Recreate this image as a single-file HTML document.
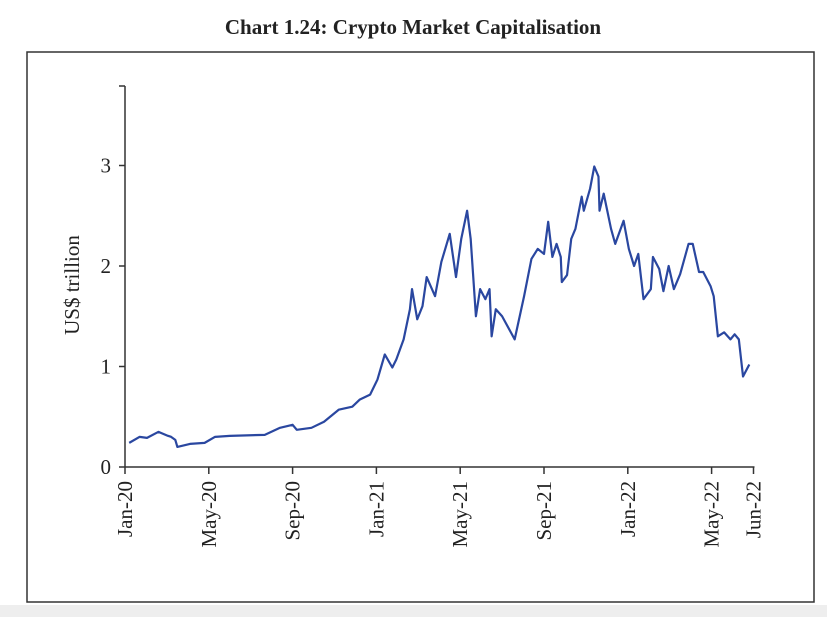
<!DOCTYPE html>
<html><head><meta charset="utf-8"><style>
body{margin:0;background:#fff;}
svg{display:block;font-family:"Liberation Serif",serif;}
</style></head><body>
<svg width="827" height="617" viewBox="0 0 827 617">
<rect x="0" y="605" width="827" height="12" fill="#eeeeee"/>
<text x="413" y="34" text-anchor="middle" font-size="21" font-weight="bold" fill="#222">Chart 1.24: Crypto Market Capitalisation</text>
<rect x="27" y="52" width="787" height="550" fill="none" stroke="#333" stroke-width="1.5"/>
<text transform="translate(79,285) rotate(-90)" text-anchor="middle" font-size="21" fill="#222">US$ trillion</text>
<g id="axes"></g>
<g id="series"></g>
</svg>
<script>
const months=[0.2,0.7,1.05,1.6,2.05,2.2,2.4,2.5,3.1,3.8,4.3,5.0,6.67,7.4,8.0,8.2,8.9,9.5,10.2,10.85,11.2,11.7,12.05,12.4,12.76,12.95,13.3,13.6,13.7,13.95,14.2,14.4,14.8,15.1,15.5,15.8,16.05,16.33,16.5,16.75,16.95,17.2,17.4,17.5,17.7,18.0,18.6,19.05,19.4,19.7,20.0,20.2,20.4,20.6,20.8,20.85,21.1,21.3,21.5,21.8,21.9,22.2,22.4,22.6,22.65,22.85,23.0,23.2,23.4,23.8,24.05,24.3,24.5,24.75,25.1,25.2,25.5,25.7,25.95,26.2,26.5,26.9,27.1,27.4,27.6,27.95,28.1,28.3,28.6,28.9,29.1,29.3,29.5,29.8];
const values=[0.24,0.30,0.29,0.35,0.31,0.30,0.27,0.20,0.23,0.24,0.30,0.31,0.32,0.39,0.42,0.37,0.39,0.45,0.57,0.60,0.67,0.72,0.87,1.12,0.99,1.07,1.27,1.57,1.77,1.47,1.60,1.89,1.70,2.04,2.32,1.89,2.27,2.55,2.27,1.50,1.77,1.67,1.77,1.30,1.57,1.50,1.27,1.70,2.07,2.17,2.12,2.44,2.09,2.22,2.09,1.84,1.91,2.27,2.37,2.69,2.55,2.77,2.99,2.89,2.55,2.72,2.57,2.37,2.22,2.45,2.17,2.0,2.12,1.67,1.77,2.09,1.97,1.75,2.0,1.77,1.92,2.22,2.22,1.94,1.94,1.8,1.7,1.30,1.34,1.27,1.32,1.27,0.90,1.02];
const xTickLabels=["Jan-20","May-20","Sep-20","Jan-21","May-21","Sep-21","Jan-22","May-22","Jun-22"];
const xTickMonths=[0,4,8,12,16,20,24,28,30];
const yTicks=[0,1,2,3];
const NS="http://www.w3.org/2000/svg";
const X=m=>125+m*20.95, Y=v=>467-v*100.5;
function mk(tag,attrs,parent){const e=document.createElementNS(NS,tag);for(const k in attrs)e.setAttribute(k,attrs[k]);parent.appendChild(e);return e;}
const ax=document.getElementById('axes');
let l=mk('line',{x1:125,y1:86,x2:125,y2:467,stroke:'#333','stroke-width':1.5},ax);


l=mk('line',{x1:125,y1:467,x2:X(30)+1,y2:467,stroke:'#333','stroke-width':1.5},ax);


mk('line',{x1:119,y1:86,x2:125,y2:86,stroke:'#333','stroke-width':1.5},ax);
yTicks.forEach(v=>{
 mk('line',{x1:119,y1:Y(v),x2:125,y2:Y(v),stroke:'#333','stroke-width':1.5},ax);
 const t=mk('text',{x:111,y:Y(v)+7,'text-anchor':'end','font-size':21,fill:'#222'},ax);
 t.textContent=v;
 
 
});
xTickMonths.forEach((m,i)=>{
 mk('line',{x1:X(m),y1:467,x2:X(m),y2:474,stroke:'#333','stroke-width':1.5},ax);
 const t=mk('text',{transform:`translate(${X(m)+7},${481}) rotate(-90)`,'text-anchor':'end','font-size':21,fill:'#222'},ax);
 t.textContent=xTickLabels[i];
 
 
});
const p=mk('polyline',{points:months.map((m,i)=>X(m)+','+Y(values[i])).join(' '),fill:'none',stroke:'#2a47a0','stroke-width':2.2,'stroke-linejoin':'round'},document.getElementById('series'));


</script>
</body></html>
